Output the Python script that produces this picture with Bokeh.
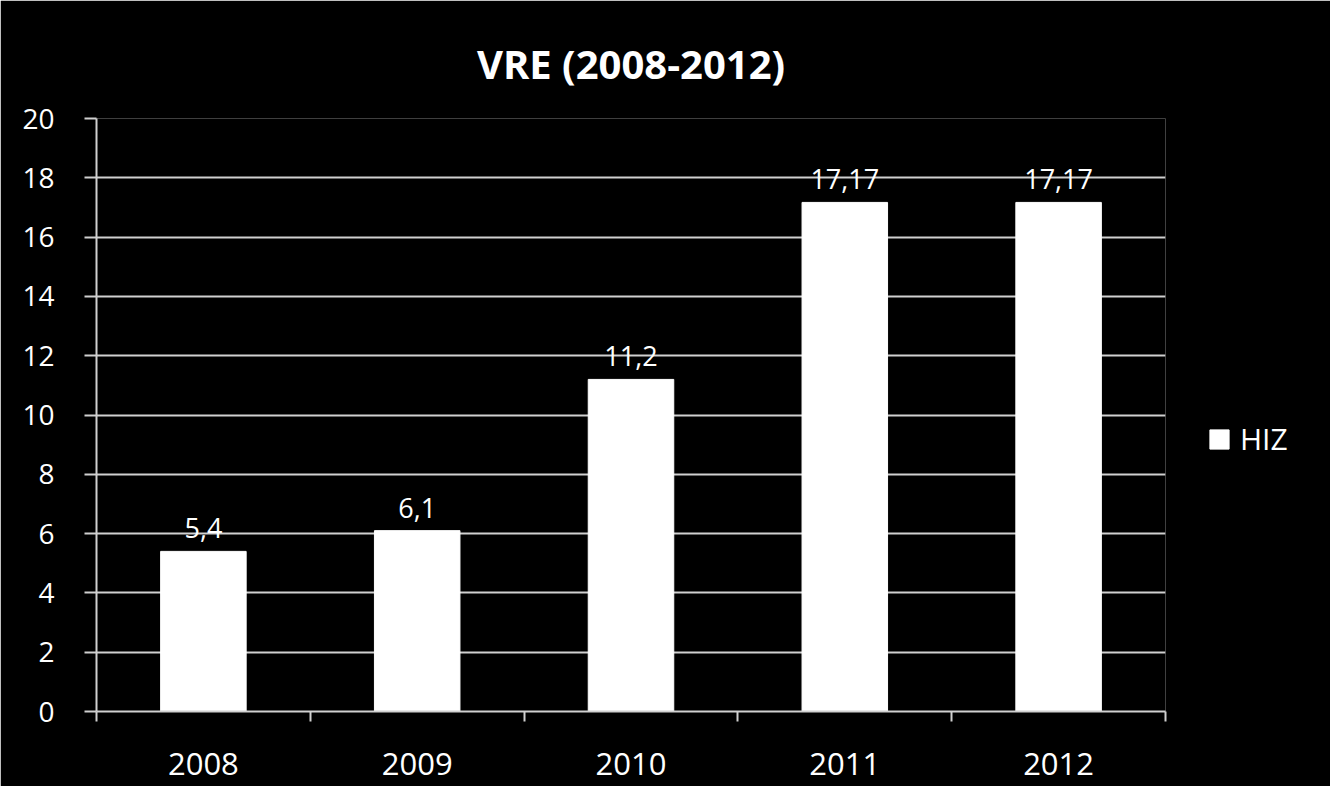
from bokeh.plotting import figure
from bokeh.models import (ColumnDataSource, FixedTicker, LabelSet, Legend, LegendItem, Title)
from bokeh.core.properties import value
from bokeh.embed import file_html
from bokeh.resources import INLINE

# ---- data ----
years = ["2008", "2009", "2010", "2011", "2012"]
values = [5.4, 6.1, 11.2, 17.17, 17.17]
series_name = "HIZ"
title_text = "VRE (2008-2012)"
y_ticks = [0, 2, 4, 6, 8, 10, 12, 14, 16, 18, 20]

FONT = "Open Sans"
GRID = "#d0d0d0"

xs = list(range(len(years)))
labels = [f"{v:g}".replace(".", ",") for v in values]
src = ColumnDataSource(dict(x=xs, top=values, label=labels))

p = figure(frame_width=1069, frame_height=593, output_backend="svg", toolbar_location=None,
           x_range=(-0.5, len(years) - 0.5), y_range=(0, 20),
           min_border_left=96, min_border_right=149, min_border_top=118, min_border_bottom=75)
p.background_fill_color = "black"
p.border_fill_color = "black"
p.outline_line_color = None

p.title = Title(text=title_text, align="center", text_font=FONT, text_font_size="40px",
                text_font_style="bold", text_color="white", offset=0)
# small spacer between title and plot area
p.add_layout(Title(text=" ", text_font_size="10px", text_color="black"), "above")

r = p.vbar(x="x", top="top", width=0.4, source=src, fill_color="white", line_color="white")

# y axis
p.yaxis.ticker = FixedTicker(ticks=y_ticks)
p.yaxis.axis_line_color = GRID
p.yaxis.axis_line_width = 2
p.yaxis.major_tick_line_color = GRID
p.yaxis.major_tick_line_width = 2
p.yaxis.major_tick_out = 12
p.yaxis.major_tick_in = 0
p.yaxis.minor_tick_line_color = None
p.yaxis.major_label_standoff = 30
p.yaxis.major_label_text_font = FONT
p.yaxis.major_label_text_font_size = "28px"
p.yaxis.major_label_text_color = "white"

# x axis: labels at centers, ticks at boundaries
p.xaxis.ticker = FixedTicker(ticks=xs, minor_ticks=[i - 0.5 for i in range(len(years) + 1)])
p.xaxis.major_label_overrides = {i: y for i, y in zip(xs, years)}
p.xaxis.axis_line_color = GRID
p.xaxis.axis_line_width = 2
p.xaxis.major_tick_line_color = None
p.xaxis.minor_tick_line_color = GRID
p.xaxis.minor_tick_line_width = 2
p.xaxis.minor_tick_out = 10
p.xaxis.minor_tick_in = 0
p.xaxis.major_label_standoff = 31
p.xaxis.major_label_text_font = FONT
p.xaxis.major_label_text_font_size = "31px"
p.xaxis.major_label_text_color = "white"

p.xgrid.grid_line_color = None
p.ygrid.ticker = FixedTicker(ticks=y_ticks)
p.ygrid.grid_line_color = GRID
p.ygrid.grid_line_width = 2

lbl = LabelSet(x="x", y="top", text="label", source=src, text_align="center",
               text_baseline="bottom", y_offset=13, text_font=value(FONT), text_font_size="27px",
               text_color="white")
p.add_layout(lbl)

legend = Legend(items=[LegendItem(label=series_name, renderers=[r])], location=(42, 252),
                background_fill_color="black", background_fill_alpha=0, border_line_color=None,
                label_text_font=FONT, label_text_font_size="30px", label_text_color="white",
                label_height=20, glyph_width=24, glyph_height=24, padding=0, margin=0,
                spacing=0, label_standoff=9)
p.add_layout(legend, "right")

open("out.html", "w").write(file_html(p, INLINE))
